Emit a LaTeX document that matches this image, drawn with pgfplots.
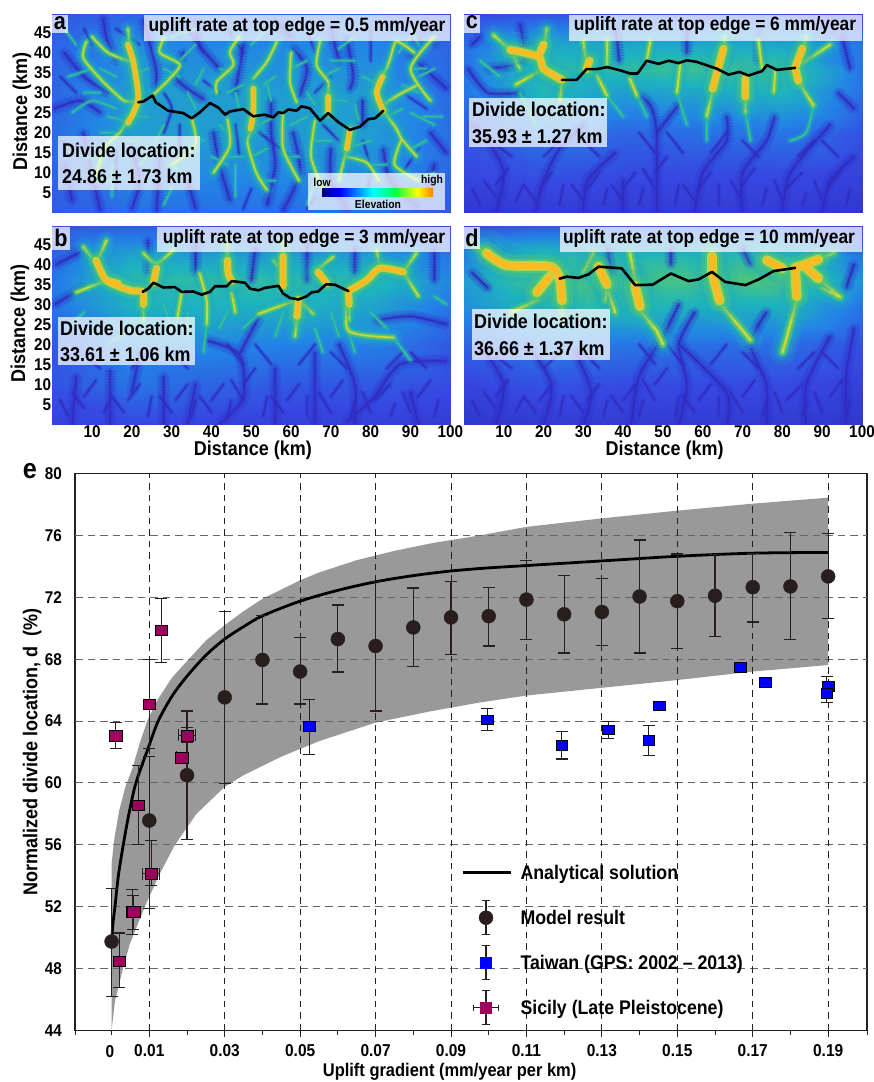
\documentclass[border=0pt]{standalone}
\usepackage{fontspec}
\usepackage{pgfplots}
\usepackage{pgfplotstable}
\pgfplotsset{compat=1.18}
\setmainfont[FakeStretch=0.9]{Liberation Sans}
\newcommand\fs[1]{\bfseries\fontsize{#1}{#1}\selectfont}
\definecolor{cT}{RGB}{30,175,190}
\definecolor{cG}{RGB}{85,200,110}
\definecolor{cY}{RGB}{200,215,60}
\definecolor{cO}{RGB}{255,185,35}
\definecolor{cV}{RGB}{48,48,205}
\definecolor{cVd}{RGB}{50,40,175}
\definecolor{inkk}{RGB}{40,30,30}
\definecolor{mgn}{RGB}{158,0,94}
\def\rs{1}
\pgfplotsset{
 lay/.style={no markers,forget plot,line join=round,line cap=round,unbounded coords=jump},
 slay/.style={lay,smooth,tension=.45},
 colormap={elev}{rgb255=(40,35,170) rgb255=(55,70,225) rgb255=(35,130,230) rgb255=(30,180,190) rgb255=(85,200,110) rgb255=(200,215,60) rgb255=(255,185,35)},
 panel/.style={scale only axis,width=398pt,height=198pt,xmin=0,xmax=100,ymin=0,ymax=49.5,
   xtick={10,20,...,100},ytick={5,10,...,45},tick style={draw=none},
   colormap name=elev,point meta min=0,point meta max=1,
   axis line style={draw=black!65,line width=1pt},
   ticklabel style={font=\fs{17},inner sep=1pt},clip=true,
   label style={font=\fs{20}},
   xticklabels={10,20,30,40,50,60,70,80,90,100},
   yticklabels={5,10,15,20,25,30,35,40,45}},
 nox/.style={xticklabels={}},
 noy/.style={yticklabels={}},
}
\newcommand\Base[1]{\addplot[surf,shader=interp,forget plot,mesh/cols=6,point meta=explicit] coordinates {#1};}
% elevation layers: comb of spurs, soft halo, body
\newcommand\Rmain[1]{%
 \addplot[slay,cT,opacity=.18,line width=\rs*34pt] coordinates {#1};
 \addplot[slay,line cap=butt,cT,opacity=.35,line width=\rs*22pt,dash pattern=on 1.3pt off 1.7pt] coordinates {#1};
 \addplot[slay,cT,opacity=.25,line width=\rs*24pt] coordinates {#1};
 \addplot[slay,cG,opacity=.35,line width=\rs*16pt] coordinates {#1};
 \addplot[slay,cG,opacity=.8,line width=\rs*10pt] coordinates {#1};
 \addplot[slay,cY,opacity=.9,line width=\rs*7pt] coordinates {#1};
 \addplot[slay,cO,opacity=.85,line width=\rs*4.5pt] coordinates {#1};
 \addplot[slay,cO,line width=\rs*2.5pt] coordinates {#1};}
\newcommand\Rsec[1]{%
 \addplot[slay,cT,opacity=.2,line width=\rs*18pt] coordinates {#1};
 \addplot[slay,line cap=butt,cT,opacity=.35,line width=\rs*14pt,dash pattern=on 1.2pt off 1.8pt] coordinates {#1};
 \addplot[slay,cT,opacity=.35,line width=\rs*11pt] coordinates {#1};
 \addplot[slay,cG,opacity=.6,line width=\rs*6.5pt] coordinates {#1};
 \addplot[slay,cG,line width=\rs*3.8pt] coordinates {#1};
 \addplot[slay,cY,line width=\rs*1.8pt] coordinates {#1};}
\newcommand\Rter[1]{%
 \addplot[slay,cT,opacity=.35,line width=\rs*6.5pt] coordinates {#1};
 \addplot[slay,cT,opacity=.75,line width=\rs*3.2pt] coordinates {#1};
 \addplot[slay,cG,opacity=.8,line width=\rs*1.1pt] coordinates {#1};}
\newcommand\Vall[1]{%
 \addplot[slay,cV,opacity=.18,line width=11pt] coordinates {#1};
 \addplot[slay,line cap=butt,cV,opacity=.25,line width=13pt,dash pattern=on 1pt off 1.7pt] coordinates {#1};
 \addplot[slay,cV,opacity=.28,line width=6pt] coordinates {#1};
 \addplot[slay,cV,opacity=.45,line width=3pt] coordinates {#1};
 \addplot[slay,cVd,opacity=.9,line width=1pt] coordinates {#1};}
\newcommand\Vfine[1]{%
 \addplot[slay,cV,opacity=.25,line width=5pt] coordinates {#1};
 \addplot[slay,cV,opacity=.5,line width=2.4pt] coordinates {#1};
 \addplot[slay,cVd,opacity=.8,line width=.8pt] coordinates {#1};}
% small branching side valleys shared by the strongly tilted panels
\newcommand\BotTex{\Vfine{(8,4)(5,8)(nan,nan)(8,7)(11,11)(nan,nan)(4,2)(2,6)(nan,nan)(13,3)(15,7)(nan,nan)(18,3)(15,7)(nan,nan)(19,6)(22,10)(nan,nan)(24,2)(25,7)(nan,nan)(30,3)(27,7)(nan,nan)(31,6)(34,10)(nan,nan)(35,2)(36,6)(nan,nan)(40,3)(37,7)(nan,nan)(40,6)(43,10)(nan,nan)(44,2)(45,6)(nan,nan)(48,6)(45,11)(nan,nan)(48,10)(51,14)(nan,nan)(48,15)(44,20)(nan,nan)(53,2)(54,7)(nan,nan)(58,3)(55,7)(nan,nan)(59,6)(62,10)(nan,nan)(64,2)(64,7)(nan,nan)(70,3)(67,8)(nan,nan)(70,7)(73,11)(nan,nan)(75,2)(76,6)(nan,nan)(80,3)(78,8)(nan,nan)(81,6)(85,10)(nan,nan)(85,2)(86,5)(nan,nan)(90,3)(88,8)(nan,nan)(92,7)(95,11)(nan,nan)(96,2)(97,6)(nan,nan)(12,14)(8,17)(nan,nan)(20,14)(24,18)(nan,nan)(34,14)(30,18)(nan,nan)(55,15)(51,20)(nan,nan)(62,15)(66,20)(nan,nan)(74,14)(70,18)(nan,nan)(84,14)(88,18)(nan,nan)(94,14)(90,18)}}
\newcommand\Divide[1]{\addplot[lay,black,line width=2.6pt] coordinates {#1};}
\pgfdeclarehorizontalshading{elevbar}{100bp}{color(0bp)=(blue!50!black);color(25bp)=(blue!50!black);color(33bp)=(blue);color(48bp)=(cyan);color(58bp)=(green!70!cyan);color(68bp)=(yellow);color(75bp)=(orange);color(100bp)=(orange)}
% ----- data of panel e
\pgfplotstableread{
x y ep em
0 49.75 3.42 3.55
0.01 57.57 4.13 5.67
0.02 60.5 4.15 4.15
0.03 65.53 5.55 5.57
0.04 67.95 2.9 2.85
0.05 67.2 2.2 2.1
0.06 69.3 2.2 2.13
0.07 68.85 4.15 4.2
0.08 70.05 2.55 2.55
0.09 70.7 2.3 2.4
0.10 70.78 1.87 1.93
0.11 71.85 2.55 2.55
0.12 70.9 2.5 2.5
0.13 71.05 2.15 2.15
0.14 72.05 3.65 3.65
0.15 71.75 3.05 3.05
0.16 72.1 2.65 2.65
0.17 72.65 2.2 2.25
0.18 72.7 3.5 3.45
0.19 73.35 2.75 2.75
}\modeltab
\pgfplotstableread{
x y ep em
0.0524 63.66 1.74 1.8
0.0996 64.1 0.7 0.7
0.1193 62.43 0.87 0.88
0.1317 63.45 0.55 0.6
0.1424 62.75 0.95 1.0
0.1452 65 0 0
0.1667 67.47 0 0
0.1733 66.5 0 0
0.19 66.25 0 0
0.1896 65.8 1.1 0.6
}\taiwantab
\pgfplotstableread{
x y ep em ex
0.0011 63.07 .83 .87 0
0.0020 48.48 1.82 1.68 0
0.0055 51.66 1.44 1.46 0
0.0058 51.66 1.04 1.16 0
0.0071 58.56 2.54 2.56 0
0.01 65.08 2.87 2.88 0
0.0105 54.14 2.16 .74 0.0023
0.0132 69.87 2.03 2.07 0
0.0186 61.65 .3 .3 .0015
0.02 63.07 .53 .47 .0023
}\sicilytab
\begin{document}
\begin{tikzpicture}[x=1pt,y=1pt]
\path[use as bounding box] (0,0) rectangle (874,1082);
% ===== a =====
\def\rs{.8}
\begin{axis}[panel,nox,at={(52.3pt,869.3pt)},anchor=south west,
  ylabel={Distance (km)},ylabel style={at={(axis description cs:-0.076,0.51)},anchor=center}]
\Base{(0,0)[.22](20,0)[.28](40,0)[.28](60,0)[.28](80,0)[.28](100,0)[.22]
(0,10)[.25](20,10)[.36](40,10)[.36](60,10)[.36](80,10)[.36](100,10)[.26]
(0,20)[.27](20,20)[.42](40,20)[.42](60,20)[.42](80,20)[.42](100,20)[.28]
(0,30)[.25](20,30)[.42](40,30)[.42](60,30)[.42](80,30)[.42](100,30)[.26]
(0,36)[.25](20,36)[.38](40,36)[.38](60,36)[.38](80,36)[.38](100,36)[.26]
(0,42)[.25](20,42)[.35](40,42)[.35](60,42)[.35](80,42)[.35](100,42)[.25]
(0,50)[.2](20,50)[.25](40,50)[.25](60,50)[.25](80,50)[.25](100,50)[.2]}
\Vall{(0.5,26)(7,28)(12,25)(nan,nan) (12.8,48.6)(13.6,43.6)(16,38)(nan,nan) (23,48)(26,36)(26,31)(nan,nan) (33,40)(31.2,33.5)(38,28.4)(nan,nan) (60.5,41)(64,36)(62,29)(nan,nan) (74,43.6)(75.6,34.3)(74.8,31)(nan,nan) (89.9,39.4)(99,31)(nan,nan) (40.5,20)(42,12)(44.6,3.2)(nan,nan) (60.5,20)(62.2,10)(58,0.6)(nan,nan) (83.2,15.8)(84.8,8.2)(91.5,1.5)(nan,nan) (27,14)(26.2,0.6)(nan,nan) (7.8,20)(12,0.6)(nan,nan) (55,28)(55,20)(56,12)(54,2)(nan,nan) (95,20)(99,15)(nan,nan) (3,40)(8,34)(14,30)(nan,nan) (36,48)(37,42)(42,36)(nan,nan) (56,48)(60,44)(nan,nan) (78,28)(78,22)(nan,nan) (70,46)(72,38)(nan,nan) (94,48)(96,42)(nan,nan) (20,16)(22,8)(20,1)(nan,nan) (34,8)(36,1)(nan,nan) (70,16)(70,8)(74,1)(nan,nan) (96,12)(94,4)(nan,nan) (3,12)(5,3)(nan,nan) (48,42)(46,30)}
\Vfine{(2,18)(8,16)(nan,nan)(2,34)(6,30)(nan,nan)(16,46)(22,42)(nan,nan)(28,30)(30,26)(28,20)(nan,nan)(34,46)(38,40)(nan,nan)(44,46)(48,40)(nan,nan)(46,22)(47,14)(nan,nan)(52,20)(60,14)(nan,nan)(64,46)(66,40)(nan,nan)(68,22)(72,18)(nan,nan)(80,46)(80,38)(nan,nan)(88,30)(94,26)(nan,nan)(92,16)(88,10)(nan,nan)(16,16)(16,6)(nan,nan)(32,22)(32,14)(nan,nan)(50,6)(48,1)(nan,nan)(66,4)(64,1)(nan,nan)(78,18)(80,10)(78,2)(nan,nan)(10,42)(8,46)(nan,nan)(28,46)(32,44)(nan,nan)(42,30)(38,33)(nan,nan)(70,34)(66,30)}
\Rter{(5,25)(10,28)(16,26)(nan,nan) (28,22)(25,16)(22,12)(nan,nan) (34,30)(36,26)(nan,nan) (46,30)(47,26)(nan,nan) (54,32)(55,28)(nan,nan) (64,30)(66,27)(nan,nan) (76,27)(77,23)(nan,nan) (90,25)(96,22)(nan,nan) (4,34)(10,36)(nan,nan) (15,12)(15,4)(nan,nan) (30,6)(28,2)(nan,nan) (46,12)(46,4)(nan,nan) (66,8)(64,2)(nan,nan) (78,6)(80,2)(nan,nan) (96,36)(92,34)(nan,nan) (36,46)(30,44)(nan,nan) (54,46)(50,42)(nan,nan) (76,44)(72,41)(nan,nan) (3,46)(6,42)(nan,nan) (90,46)(92,42)(nan,nan) (38,36)(36,32)(nan,nan)(12,36)(16,34)(nan,nan)(8,30)(12,30)(nan,nan)(24,36)(21,35)(nan,nan)(24,24)(20,24)(nan,nan)(14,24)(18,23)(nan,nan)(12,20)(17,20)(nan,nan)(22,18)(18,18)(nan,nan)(8,14)(13,13)(nan,nan)(16,8)(11,8)(nan,nan)(28,36)(32,34)(nan,nan)(36,42)(32,38)(nan,nan)(38,18)(35,20)(nan,nan)(32,16)(36,15)(nan,nan)(33,9)(30,12)(nan,nan)(42,36)(45,35)(nan,nan)(48,32)(44,30)(nan,nan)(42,22)(44,20)(nan,nan)(48,14)(44,14)(nan,nan)(40,14)(44,12)(nan,nan)(56,34)(53,32)(nan,nan)(56,24)(52,22)(nan,nan)(54,16)(50,14)(nan,nan)(56,8)(52,8)(nan,nan)(64,24)(60,22)(nan,nan)(62,14)(58,14)(nan,nan)(70,18)(66,18)(nan,nan)(64,38)(60,36)(nan,nan)(72,36)(68,34)(nan,nan)(76,38)(70,38)(nan,nan)(74,28)(70,28)(nan,nan)(76,18)(73,18)(nan,nan)(80,18)(74,16)(nan,nan)(84,12)(79,12)(nan,nan)(78,34)(82,32)(nan,nan)(88,26)(84,24)(nan,nan)(94,18)(90,16)(nan,nan)(96,10)(91,8)(nan,nan)(90,44)(87,40)(nan,nan)(94,36)(90,36)(nan,nan)(98,24)(93,24)(nan,nan)(88,32)(92,30)}
\Rsec{(12.8,32.7)(18,28)(21,28)(nan,nan) (8.6,42.8)(7.8,38.6)(12.8,32.7)(nan,nan) (49.2,19)(49.2,16.5)(51.3,9.9)(53.9,5.7)(nan,nan) (50.5,33.5)(53.9,37.7)(56.4,42.7)(nan,nan) (69.3,30)(69.3,32.7)(66.4,36.9)(67.3,42.8)(nan,nan) (84,36)(84.9,38.5)(86.5,42.8)(91,40)(nan,nan) (83.2,25.5)(86.5,20.9)(87.8,18.4)(91.5,14.1)(nan,nan) (73.5,14.1)(79,12.5)(82,8)(nan,nan) (73.5,14.1)(72,8)(nan,nan) (41.3,30)(41.3,32.7)(45.5,36.9)(44.6,40.2)(47,44)(nan,nan) (44,23.4)(44.6,16.7)(40.5,10)(nan,nan) (25.2,29.3)(29,33)(32,37)(27,40)(28,43.6)(nan,nan) (61.4,27.6)(59.7,32.7)(60,40)(nan,nan) (87.8,18.4)(86,12)(92,8)(nan,nan) (35,23.6)(36,17)(30,12)(nan,nan) (17,20)(13,16)(11,9)(nan,nan) (20.4,37.5)(14,40)(10,44)(nan,nan) (58,25)(58,16)(62,8)(nan,nan) (66,23)(65,14)(68,6)(nan,nan) (92,32)(88,30)(83,27)(nan,nan) (96,44)(90,36)(95,28)(nan,nan)(19,46)(19.5,40)(nan,nan)(19.5,24)(17,20)(nan,nan)(50,24)(49.5,19)(nan,nan)(82,33)(84,36)(nan,nan)(74.5,18)(73.5,14)(nan,nan)(69.3,28)(69.3,31)}
\Rmain{(19,42)(20.4,37.5)(21.6,29)(20.4,25)(19,22.5)(nan,nan) (50.5,31)(50.5,25)(49.8,21)(nan,nan) (83.2,25.5)(81.5,30)(83,34)(nan,nan) (74.8,20.7)(74,16)(nan,nan) (69.3,25)(69.3,29)}
\Divide{(21.6,27.6)(22.9,27.8)(25.2,29.3)(26,27.6)(29.1,25.5)(32.9,24.9)(35,23.6)(37.1,25.1)(39.6,27.4)(41.7,26.3)(43.4,24.5)(44.6,25.3)(48,25.9)(50.5,24.1)(53.4,24.5)(55.5,23.8)(56.8,25.1)(58,24.9)(59.3,25.8)(61.4,25.5)(62.6,26.6)(64.7,26.1)(67.3,23)(69.3,24.9)(71.9,22.6)(74.8,20.7)(77.3,21.5)(79.4,23.4)(81.1,23.6)(83.2,25.5)}
\end{axis}
% ===== c =====
\def\rs{1.1}
\begin{axis}[panel,nox,noy,at={(464pt,869.3pt)},anchor=south west]
\Base{(0,0)[.1](20,0)[.12](40,0)[.12](60,0)[.12](80,0)[.12](100,0)[.1]
(0,10)[.17](20,10)[.2](40,10)[.18](60,10)[.18](80,10)[.18](100,10)[.15]
(0,20)[.22](20,20)[.32](40,20)[.25](60,20)[.28](80,20)[.3](100,20)[.2]
(0,30)[.3](20,30)[.52](40,30)[.42](60,30)[.45](80,30)[.5](100,30)[.28]
(0,36)[.3](20,36)[.55](40,36)[.55](60,36)[.6](80,36)[.6](100,36)[.3]
(0,42)[.28](20,42)[.45](40,42)[.45](60,42)[.45](80,42)[.45](100,42)[.3]
(0,50)[.15](20,50)[.2](40,50)[.2](60,50)[.2](80,50)[.2](100,50)[.15]}
\Vall{(48.4,0)(48.4,20)(46.8,26.8)(43,30)(nan,nan) (48.4,20)(54,27)(nan,nan) (8,0)(10,10)(6,18)(2,22)(nan,nan) (18,0)(20,8)(24,16)(30,22)(nan,nan) (30,0)(31,8)(38,15)(nan,nan) (40,0)(40,8)(nan,nan) (58,0)(60,10)(66,18)(66,24)(nan,nan) (70,0)(70,10)(76,18)(78,24)(nan,nan) (80,0)(82,10)(92,22)(nan,nan) (90,0)(92,8)(98,14)(nan,nan) (98,26)(94,30)(nan,nan) (14,30)(6,30)(1,36)(nan,nan) (14,47)(15,38)(6,36)(nan,nan) (38,46)(39,38)(nan,nan) (56,46)(56,40)(nan,nan) (74,45)(74,38)(nan,nan) (95,44)(97,36)(nan,nan) (4,44)(2,42)}
\BotTex
\Rter{(14,30)(18,22)(nan,nan) (35.9,29.3)(40,24)(nan,nan) (53.5,30.1)(56,22)(nan,nan) (61,24.2)(61,18)(nan,nan) (70.7,25.1)(72,18)(nan,nan) (87.8,26.8)(86,20)(82,18)(nan,nan) (43.4,29.3)(46,24)(nan,nan) (9,34)(4,38)}
\Rsec{(33.4,34.3)(35.9,29.3)(nan,nan) (41.7,33.5)(43.4,29.3)(nan,nan) (54.3,36.9)(53.5,30.1)(nan,nan) (78.2,35.2)(77.8,30.1)(nan,nan) (30.8,35.9)(30,42.8)(nan,nan) (35.9,36.9)(36,43)(nan,nan) (45.9,38)(46.8,42.8)(nan,nan) (74.9,36)(74,43)(nan,nan) (63.5,34.8)(61,24.2)(nan,nan) (70.7,33.5)(70.7,25.1)(nan,nan) (86.2,29.3)(87.8,26.8)(nan,nan) (83.2,36.2)(92,42)(nan,nan) (11.6,40.7)(7.4,44.4)(nan,nan) (20,36)(13,32)(nan,nan) (11.6,40.7)(14,36)(nan,nan)(24.5,32)(24.1,28)(nan,nan)(20,41)(20.8,46)(nan,nan)(85,40)(86,44)(nan,nan)(84,33)(86.2,29.3)(nan,nan)(65,38)(65.6,44)}
\Rmain{(11.6,40.7)(18.7,39)(20,36)(24.6,33.2)(nan,nan) (18.7,39)(20,42)(nan,nan) (83.2,36.2)(85,41)(nan,nan) (83.2,36.2)(84,33)(nan,nan) (63.5,34.8)(65.2,41)(nan,nan) (63.5,34.8)(62.5,31)(nan,nan) (70.7,33.5)(70.7,29)(nan,nan) (30.8,35.9)(31.5,38)}
\Divide{(24.6,33.2)(28.3,33.2)(30.8,35.9)(33.4,35.9)(36,36.4)(39.2,35.6)(41.7,34.8)(43.6,34.8)(45.9,38)(48.9,37.2)(51.4,38)(53.9,37.4)(56,38.1)(58.5,37.7)(63.5,36)(66.5,34.5)(69.2,35.2)(71.5,34.3)(74.9,35.4)(76.1,36.9)(78.6,35.7)(83.2,36.2)}
\end{axis}
% ===== b =====
\def\rs{1}
\begin{axis}[panel,at={(52.3pt,657.7pt)},anchor=south west,
  ylabel={Distance (km)},ylabel style={at={(axis description cs:-0.081,0.507)},anchor=center},
  xlabel={Distance (km)},xlabel style={at={(axis description cs:0.504,-0.13)},anchor=center}]
\Base{(0,0)[.15](20,0)[.17](40,0)[.15](60,0)[.14](80,0)[.14](100,0)[.12]
(0,10)[.2](20,10)[.3](40,10)[.25](60,10)[.22](80,10)[.22](100,10)[.18]
(0,20)[.22](20,20)[.36](40,20)[.36](60,20)[.33](80,20)[.33](100,20)[.22]
(0,30)[.3](20,30)[.5](40,30)[.5](60,30)[.5](80,30)[.45](100,30)[.3]
(0,36)[.3](20,36)[.55](40,36)[.55](60,36)[.55](80,36)[.55](100,36)[.35]
(0,42)[.25](20,42)[.45](40,42)[.42](60,42)[.42](80,42)[.42](100,42)[.3]
(0,50)[.18](20,50)[.22](40,50)[.2](60,50)[.2](80,50)[.2](100,50)[.18]}
\Vall{(0.7,30)(7.8,34.3)(nan,nan) (1,40)(7,43)(nan,nan) (38.8,20.9)(47,17.5)(48,6.6)(42,0)(nan,nan) (47,17.5)(52,27)(nan,nan) (99,25)(90,27)(81.5,26)(nan,nan) (99,15.8)(87.4,15)(80.7,6.6)(74,0.7)(nan,nan) (14.5,13.3)(14.5,0)(nan,nan) (28,12)(28,0)(nan,nan) (36,10)(34,0)(nan,nan) (56,14)(56,0)(nan,nan) (66,18)(66,0)(nan,nan) (72,20)(76,10)(76,0)(nan,nan) (90,8)(92,0)(nan,nan) (6,12)(5,0)(nan,nan) (24,46)(24,38)(nan,nan) (36,46)(36,38)(nan,nan) (51,44)(50,36)(nan,nan) (64,46)(64,36)(nan,nan) (76,44)(76,38)(nan,nan) (96,44)(96,36)(nan,nan) (22,18)(20,8)}
\BotTex
\Rter{(38.8,25)(38,18)(nan,nan) (51.8,27.6)(48,24)(nan,nan) (74.4,23.4)(76,18)(nan,nan) (85.7,21.7)(90,16)(nan,nan) (20,24)(14,20)(nan,nan) (28,30)(30,24)(nan,nan) (8,28)(4,24)(nan,nan) (66,24)(68,18)(nan,nan) (96,32)(99,30)(nan,nan)(44,28)(42,24)(nan,nan)(58,28)(56,22)(nan,nan)(70,28)(72,22)(nan,nan)(34,28)(34,22)(nan,nan)(80,28)(84,24)}
\Rsec{(37,37.7)(38.8,31)(38.8,25)(nan,nan) (61.8,31.2)(51.8,27.6)(nan,nan) (74.4,33.3)(74.4,23.4)(85.7,21.7)(nan,nan) (65.6,27.6)(61.8,31.2)(nan,nan) (55.5,41)(58,38)(nan,nan) (30.4,43.6)(26.2,40.2)(22.9,42.8)(nan,nan) (13.6,36)(6,33)(nan,nan) (88.2,38.1)(91.5,42.8)(nan,nan) (88.2,38.1)(92,32)(nan,nan) (81.5,43.6)(82.3,39)(nan,nan) (66.4,38.5)(70.6,41.9)(nan,nan) (7.8,44.4)(11,41)(13.6,46)(nan,nan) (32.5,33)(31.5,27)(nan,nan) (45,33)(46,28)(nan,nan)(22.9,30)(22.9,26)(nan,nan)(61.5,27)(61,22)(nan,nan)(74.6,30)(74.6,26)(nan,nan)(44,40)(44,46)(nan,nan)(58,40)(58,46)}
\Rmain{(11,41)(13.6,36)(19.5,33.5)(22.7,33.1)(22.9,30)(nan,nan) (13.6,36)(16.6,35.2)(nan,nan) (25.4,35.4)(26.2,39)(nan,nan) (44,41)(44.2,37.7)(45.1,35.8)(nan,nan) (58,42)(58,34.6)(nan,nan) (61.8,31.2)(61.5,27)(nan,nan) (69,35.2)(66.8,38)(nan,nan) (74.4,33.3)(74.6,30)(nan,nan) (74.4,33.3)(79,36)(82.3,39)(88.2,38.1)}
\Divide{(22.7,33.1)(24.1,33.9)(25.4,35.4)(27.9,34.2)(30.8,34.3)(32.5,33.1)(35.4,33.2)(37.5,32.4)(39.6,33.1)(40.9,34.5)(43.8,34.5)(45.1,35.8)(48.4,35.4)(49.7,33.9)(51.8,33.5)(53.4,34.1)(56.8,34.6)(58,32.7)(59.7,31.6)(61.8,31.2)(63.9,32)(65.2,33)(66.8,33.2)(68.8,35)(71,34.9)(74.4,33.3)}
\end{axis}
% ===== d =====
\def\rs{1.4}
\begin{axis}[panel,noy,at={(464pt,657.7pt)},anchor=south west,
  xlabel={Distance (km)},xlabel style={at={(axis description cs:0.504,-0.13)},anchor=center}]
\Base{(0,0)[.1](20,0)[.12](40,0)[.12](60,0)[.12](80,0)[.12](100,0)[.1]
(0,10)[.16](20,10)[.2](40,10)[.18](60,10)[.18](80,10)[.18](100,10)[.14]
(0,20)[.25](20,20)[.33](40,20)[.3](60,20)[.28](80,20)[.28](100,20)[.2]
(0,30)[.38](20,30)[.55](40,30)[.55](60,30)[.5](80,30)[.5](100,30)[.3]
(0,36)[.42](20,36)[.66](40,36)[.62](60,36)[.62](80,36)[.66](100,36)[.38]
(0,42)[.3](20,42)[.55](40,42)[.52](60,42)[.52](80,42)[.55](100,42)[.3]
(0,50)[.15](20,50)[.2](40,50)[.2](60,50)[.2](80,50)[.2](100,50)[.15]}
\Vall{(8,0)(10,10)(4,20)(nan,nan) (20,0)(22,10)(16,20)(nan,nan) (30,0)(32,8)(28,18)(nan,nan) (42,0)(44,12)(50,22)(54,30)(nan,nan) (54,0)(56,10)(54,20)(58,28)(nan,nan) (66,0)(66,8)(54,20)(nan,nan) (76,0)(76,10)(72,20)(76,28)(nan,nan) (86,0)(86,10)(92,22)(nan,nan) (96,0)(96,12)(98,24)(nan,nan) (36,44)(37,38)(nan,nan) (52,44)(52,40)(nan,nan) (70,44)(72,40)(nan,nan) (98,40)(96,34)(nan,nan) (2,38)(6,34)}
\BotTex
\Rsec{(24.6,30.1)(24.8,26)(nan,nan)(18.3,31)(12,28)(nan,nan) (35.9,34.3)(38,28)(nan,nan) (69.4,24.2)(72,21)(nan,nan) (81.1,21.7)(80,18)(nan,nan) (94.5,31.8)(90,34)(nan,nan) (48.4,23.4)(50,20)(nan,nan)(5.7,42.8)(2,45)(nan,nan)(64.4,30.1)(69.4,24.2)(nan,nan)(44.2,28.5)(48.4,23.4)(nan,nan)(83.6,31)(81.1,21.7)(nan,nan)(89,36.5)(94.5,31.8)(nan,nan)(89,41.2)(92.9,42.8)(nan,nan)(30,38)(32.5,42.8)(nan,nan)(41.7,42.8)(43,36)(nan,nan)(35.9,34.3)(35.5,31)}
\Rmain{(5.7,42.8)(10.7,39.8)(21.6,39.4)(24,36.4)(24.6,31)(nan,nan) (21.6,37)(18.3,33)(nan,nan) (33.8,39.4)(35.9,35)(nan,nan) (43,34.6)(44.2,29.5)(nan,nan) (62.3,38.1)(62.3,42)(nan,nan) (62.3,38.1)(64.2,31)(nan,nan) (83.2,39.1)(85.3,39.8)(89,41.2)(nan,nan) (83.2,39.1)(83.6,32)(nan,nan) (85.3,39.8)(89,36.5)(nan,nan) (76.1,41)(80,39)}
\Divide{(24,36.4)(25.8,36.9)(28.8,36.6)(31.3,37.5)(33.8,39.4)(39.6,39)(43,34.8)(47.4,34.9)(52,37.7)(56.4,35.8)(58.9,36.2)(62.3,38.1)(65.6,35.6)(70.7,34.8)(74,36.2)(77.8,38.3)(83.2,39.1)}
\end{axis}
% ===== e =====
\begin{axis}[scale only axis,width=792pt,height=557pt,at={(75pt,51.5pt)},anchor=south west,
  xmin=-0.0097,xmax=0.2003,ymin=44,ymax=80,
  xtick={0.01,0.03,0.05,0.07,0.09,0.11,0.13,0.15,0.17,0.19},
  xticklabels={0.01,0.03,0.05,0.07,0.09,0.11,0.13,0.15,0.17,0.19},
  minor xtick={-0.0097,0,0.02,0.04,0.06,0.08,0.10,0.12,0.14,0.16,0.18,0.2003},
  ytick={44,48,...,80},yticklabels={44,48,52,56,60,64,68,72,76,80},
  axis line style={inkk,line width=1.1pt},
  xtick pos=bottom,ytick pos=left,
  x tick style={inkk,line width=1pt},y tick style={draw=none},
  major tick length=6.5pt,minor tick length=4pt,
  tick align=outside,
  xticklabel style={font=\fs{17.2},yshift=-4pt},
  yticklabel style={font=\fs{17},xshift=-3pt},
  xlabel={Uplift gradient (mm/year per km)},
  xlabel style={font=\fs{18.3},at={(axis description cs:0.473,-0.0745)},anchor=center},
  ylabel={Normalized divide location, d~~(\%)},
  ylabel style={font=\fs{20},at={(axis description cs:-0.054,0.5)},anchor=center},
  legend style={at={(axis description cs:0.4874,0.324)},anchor=north west,draw=none,fill=none,
     font=\fs{19.7},inner sep=0pt,row sep=0pt,
     /tikz/every odd column/.append style={column sep=6pt}},
  legend cell align=left,
  error bars/error bar style={inkk,line width=1.1pt},
  error bars/error mark options={inkk,line width=1.1pt,rotate=90,mark size=6pt},
]
\addplot[forget plot,fill=black!40,draw=none] coordinates {
(0,44)(0,54.8)(0.0008,56.5)(0.002,58.2)(0.0036,59.7)(0.0056,61)(0.0075,62.6)(0.00945,64)(0.012,65.3)(0.016,66.8)(0.0216,68.3)(0.025,69.2)(0.03,70.2)(0.035,71.1)(0.04,71.9)(0.045,72.5)(0.05,73.1)(0.055,73.6)(0.06,74)(0.065,74.4)(0.07,74.7)(0.075,75)(0.085,75.5)(0.0977,76)(0.11,76.55)(0.13,77.1)(0.15,77.6)(0.17,78.05)(0.19,78.44)
(0.19,67.62)(0.17,67.2)(0.15,66.65)(0.13,66.15)(0.11,65.65)(0.0977,65.2)(0.085,64.65)(0.07,63.9)(0.06,63.1)(0.055,62.7)(0.05,62.2)(0.045,61.7)(0.04,61.1)(0.035,60.5)(0.03,59.75)(0.0225,58)(0.0168,56)(0.0125,54)(0.0088,52)(0.00485,49.6)(0.0028,47.8)(0.0009,45.9)(0,44)};
\addplot[lay,black!60,line width=1pt,line cap=butt,dash pattern=on 7.5pt off 5pt] coordinates {(-0.0097,48)(0.2003,48)(nan,nan)(-0.0097,52)(0.2003,52)(nan,nan)(-0.0097,56)(0.2003,56)(nan,nan)(-0.0097,60)(0.2003,60)(nan,nan)(-0.0097,64)(0.2003,64)(nan,nan)(-0.0097,68)(0.2003,68)(nan,nan)(-0.0097,72)(0.2003,72)(nan,nan)(-0.0097,76)(0.2003,76)};
\addplot[lay,inkk,line width=.9pt,line cap=butt,dash pattern=on 6.5pt off 5pt] coordinates {(0.01,44)(0.01,80)(nan,nan)(0.03,44)(0.03,80)(nan,nan)(0.05,44)(0.05,80)(nan,nan)(0.07,44)(0.07,80)(nan,nan)(0.09,44)(0.09,80)(nan,nan)(0.11,44)(0.11,80)(nan,nan)(0.13,44)(0.13,80)(nan,nan)(0.15,44)(0.15,80)(nan,nan)(0.17,44)(0.17,80)(nan,nan)(0.19,44)(0.19,80)};
\addplot[forget plot,no markers,smooth,black,line width=2.8pt] coordinates {
(0,49.75)(0.0004,51)(0.0009,52)(0.0018,54)(0.0031,56)(0.0046,58)(0.00645,60)(0.0097,62.25)(0.01236,64)(0.016,65.6)(0.0199,66.87)(0.025,68.25)(0.03,69.3)(0.035,70.1)(0.04,70.8)(0.05,71.75)(0.06,72.45)(0.07,73)(0.08,73.4)(0.09,73.7)(0.10,73.9)(0.11,74.05)(0.13,74.35)(0.15,74.65)(0.17,74.85)(0.19,74.9)};
\addplot[forget plot,only marks,mark=*,mark size=7pt,color=inkk,
  error bars/.cd,y dir=both,y explicit] table[x=x,y=y,y error plus=ep,y error minus=em] {\modeltab};
\addplot[forget plot,only marks,mark=square*,mark size=5.6pt,mark options={yscale=.85,draw=none,fill=blue},
  error bars/.cd,y dir=both,y explicit] table[x=x,y=y,y error plus=ep,y error minus=em] {\taiwantab};
\addplot[forget plot,only marks,mark=square*,mark size=6.3pt,mark options={yscale=.85,draw=none,fill=mgn},
  error bars/.cd,y dir=both,y explicit,x dir=both,x explicit] table[x=x,y=y,y error plus=ep,y error minus=em,x error=ex] {\sicilytab};
\addlegendimage{legend image code/.code={\path[draw=none,fill=none] (0,-22.5pt) rectangle (50pt,22.5pt);\draw[black,line width=2.6pt] (0,0)--(48pt,0);}}
\addlegendentry{Analytical solution}
\addlegendimage{legend image code/.code={\path[draw=none,fill=none] (0,-22.5pt) rectangle (50pt,22.5pt);\draw[inkk,line width=1.1pt] (19.5pt,17pt)--(27.5pt,17pt) (23.5pt,17pt)--(23.5pt,-17pt) (19.5pt,-17pt)--(27.5pt,-17pt);\fill[inkk] (23.5pt,0) circle (7pt);}}
\addlegendentry{Model result}
\addlegendimage{legend image code/.code={\path[draw=none,fill=none] (0,-22.5pt) rectangle (50pt,22.5pt);\draw[inkk,line width=1.1pt] (19.5pt,17pt)--(27.5pt,17pt) (23.5pt,17pt)--(23.5pt,-17pt) (19.5pt,-17pt)--(27.5pt,-17pt);\fill[blue] (18pt,-5.5pt) rectangle (29pt,5.5pt);}}
\addlegendentry{Taiwan (GPS: 2002 -- 2013)}
\addlegendimage{legend image code/.code={\path[draw=none,fill=none] (0,-22.5pt) rectangle (50pt,22.5pt);\draw[inkk,line width=1.1pt] (19.5pt,17pt)--(27.5pt,17pt) (23.5pt,17pt)--(23.5pt,-17pt) (19.5pt,-17pt)--(27.5pt,-17pt) (11pt,0)--(36pt,0) (11pt,3pt)--(11pt,-3pt) (36pt,3pt)--(36pt,-3pt);\fill[mgn] (18pt,-5.5pt) rectangle (29pt,5.5pt);}}
\addlegendentry{Sicily (Late Pleistocene)}
\end{axis}
% ===== overlays: px coordinates, y down =====
\begin{scope}[yshift=1082pt,y=-1pt]
\tikzset{bx/.style={fill=white,fill opacity=.72,draw=none},
 tt/.style={font=\fs{19.3},inner sep=0pt,text=black},
 dv/.style={font=\fs{19.9},inner sep=0pt,anchor=west,text=black},
 pl/.style={font=\fs{24},inner sep=0pt,text=black}}
% a
\fill[bx] (52.3,15) rectangle (68,33);\node[pl] at (60,23) {a};
\fill[bx] (144,15) rectangle (450,41);\node[tt] at (297,27) {uplift rate at top edge = 0.5 mm/year};
\fill[bx] (58,136) rectangle (200,190);\node[dv] at (62,150) {Divide location:};\node[dv] at (62,176) {24.86 ± 1.73 km};
\fill[bx] (308,173) rectangle (445,210);
\path[shading=elevbar] (322,189) rectangle (433,197);
\node[font=\fs{11.5},inner sep=0pt] at (322,182) {low};
\node[font=\fs{11.5},inner sep=0pt] at (432,181) {high};
\node[font=\fs{11.5},inner sep=0pt] at (378,204) {Elevation};
% c
\fill[bx] (464,15) rectangle (480,33);\node[pl] at (472,22) {c};
\fill[bx] (569,15) rectangle (861.7,41);\node[tt] at (715,26) {uplift rate at top edge = 6 mm/year};
\fill[bx] (469,98) rectangle (607,147);\node[dv] at (472,109) {Divide location:};\node[dv] at (472,136) {35.93 ± 1.27 km};
% b
\fill[bx] (52.3,227) rectangle (70,250);\node[pl] at (61,238) {b};
\fill[bx] (157,227) rectangle (450,252);\node[tt] at (304,239) {uplift rate at top edge = 3 mm/year};
\fill[bx] (58,317) rectangle (195,365);\node[dv] at (60,328) {Divide location:};\node[dv] at (60,354) {33.61 ± 1.06 km};
% d
\fill[bx] (464,227) rectangle (480,249);\node[pl] at (472,238) {d};
\fill[bx] (560,227) rectangle (861.7,252);\node[tt] at (709,239) {uplift rate at top edge = 10 mm/year};
\fill[bx] (472,309) rectangle (610,360);\node[dv] at (474,321) {Divide location:};\node[dv] at (474,348) {36.66 ± 1.37 km};
% e
\node[font=\fs{28},inner sep=0pt] at (30,471) {e};
% lone 0 tick label
\node[font=\fs{17.2},inner sep=0pt] at (110,1052) {0};
\end{scope}
\end{tikzpicture}
\end{document}
